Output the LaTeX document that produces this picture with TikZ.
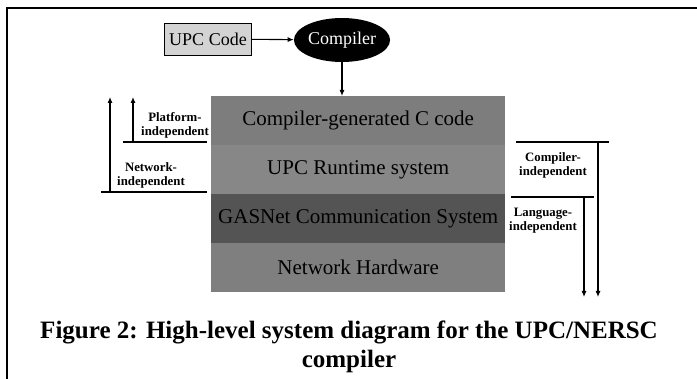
\documentclass[tikz,border=0pt]{standalone}
\usepackage{fontspec}
\setmainfont{Liberation Serif}
\usetikzlibrary{arrows.meta,shapes.geometric}
\definecolor{layA}{HTML}{7D7D7D}
\definecolor{layB}{HTML}{878787}
\definecolor{layC}{HTML}{545454}
\definecolor{layD}{HTML}{7F7F7F}
\definecolor{codefill}{HTML}{D3D3D3}
\begin{document}
\begin{tikzpicture}[x=1pt,y=-1pt,
  layer/.style={rectangle,inner sep=0,minimum width=294pt,minimum height=49pt,anchor=north west,
    font=\fontsize{21}{24}\selectfont,text=black},
  lbl/.style={font=\fontsize{12.8}{14}\selectfont\bfseries,align=center,inner sep=0},
  conn/.style={line width=1.1pt,-{Latex[length=6pt,width=5pt]}},
  bar/.style={line width=1.1pt},
  frame/.style={line width=2pt}]
\useasboundingbox (0,0) rectangle (697,379);
% frame
\coordinate (ftl) at (6.5,8);
\coordinate (ftr) at (697,8);
\coordinate (fbl) at (6.5,379);
\draw[frame] (ftr) -- (ftl) -- (fbl);
% stack
\node[layer,fill=layA] (l1) at (211,96) {Compiler-generated C code};
\node[layer,fill=layB] (l2) at (211,145) {UPC Runtime system};
\node[layer,fill=layC] (l3) at (211,194) {GASNet Communication System};
\node[layer,fill=layD] (l4) at (211,243) {Network Hardware};
% top
\node[draw,fill=codefill,line width=0.8pt,minimum width=87pt,minimum height=32pt,inner sep=0,
  font=\fontsize{18}{20}\selectfont] (upc) at (208,39) {UPC Code};
\node[ellipse,fill=black,text=white,minimum width=82pt,minimum height=44pt,inner sep=0,
  font=\fontsize{18}{20}\selectfont] (comp) at (342,40) {Compiler};
\draw[conn] (upc) -- (comp);
\draw[conn] (comp.south) -- (comp.south |- l1.north);
% left side
\coordinate (pl) at (123,142); \coordinate (pr) at (207,142);
\coordinate (nl) at (101,192); \coordinate (nr) at (207,192);
\coordinate (pa) at (133,142); \coordinate (pt) at (133,97);
\coordinate (na) at (110,192); \coordinate (nt) at (110,97);
\draw[bar] (pl) -- (pr);
\draw[bar] (nl) -- (nr);
\draw[conn] (pa) -- (pt);
\draw[conn] (na) -- (nt);
\node[lbl] (plat) at (175,125) {Platform-\\independent};
\node[lbl] (netw) at (151,175) {Network-\\independent};
% right side
\coordinate (cl) at (516,142); \coordinate (cr) at (609,142);
\coordinate (gl) at (511,197); \coordinate (gr) at (594,197);
\coordinate (ca) at (598,142); \coordinate (ct) at (598,297);
\coordinate (ga) at (584,197); \coordinate (gt) at (584,297);
\draw[bar] (cl) -- (cr);
\draw[bar] (gl) -- (gr);
\draw[conn] (ca) -- (ct);
\draw[conn] (ga) -- (gt);
\node[lbl] (cind) at (553,165) {Compiler-\\independent};
\node[lbl] (lind) at (543,221) {Language-\\independent};
% caption
\node[font=\fontsize{25}{29}\selectfont\bfseries,align=center,inner sep=0] (cap) at (349,347)
  {Figure 2: High-level system diagram for the UPC/NERSC\\compiler};
\end{tikzpicture}
\end{document}
